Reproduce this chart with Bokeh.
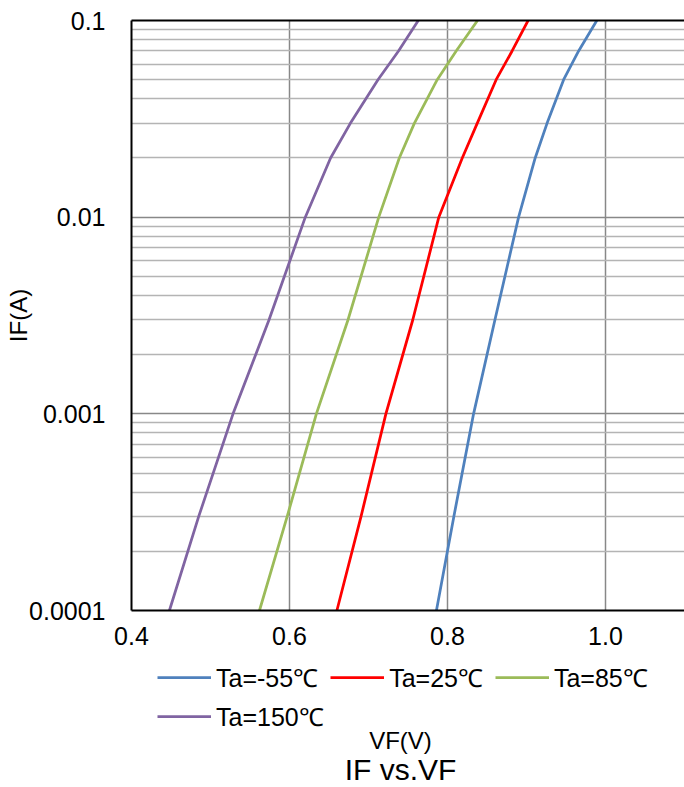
import math
from bokeh.plotting import figure
from bokeh.layouts import column
from bokeh.models import (FixedTicker, PrintfTickFormatter, CustomJSTickFormatter, Range1d,
                          Legend, LegendItem, Label, LinearAxis)
from bokeh.embed import file_html
from bokeh.resources import INLINE

# ---- data ----
IF_A = [1e-4, 3e-4, 1e-3, 3e-3, 1e-2, 2e-2, 3e-2, 5e-2, 7e-2, 1e-1]
VF_M55 = [0.786, 0.808, 0.833, 0.860, 0.890, 0.911, 0.926, 0.947, 0.966, 0.989]
VF_25 = [0.660, 0.6905, 0.722, 0.756, 0.789, 0.8187, 0.8376, 0.8616, 0.8818, 0.902]
VF_85 = [0.562, 0.597, 0.634, 0.674, 0.713, 0.739, 0.758, 0.787, 0.811, 0.838]
VF_150 = [0.448, 0.485, 0.5285, 0.574, 0.620, 0.652, 0.677, 0.712, 0.738, 0.763]

SERIES = ["Ta=-55℃", "Ta=25℃", "Ta=85℃", "Ta=150℃"]
COLORS = ["#4F81BD", "#FF0000", "#9BBB59", "#8064A2"]

X_TICKS = [0.4, 0.6, 0.8, 1.0]
Y_TICKS = [1e-4, 1e-3, 1e-2, 1e-1]
Y_MINOR = [k * d for d in [1e-4, 1e-3, 1e-2] for k in range(2, 10)]

X_LABEL = "VF(V)"
Y_LABEL = "IF(A)"
TITLE = "IF vs.VF"

FONT = "Liberation Sans"
W = 684
H1 = 660
H2 = 787 - H1

p = figure(width=W, height=H1, y_axis_type="log",
           x_range=Range1d(0.4, 1.1), y_range=Range1d(1e-4, 1e-1),
           output_backend="svg", toolbar_location=None,
           min_border_left=131, min_border_right=0, min_border_top=20,
           min_border_bottom=H1 - 20 - 590)
p.outline_line_color = None

xt = FixedTicker(ticks=X_TICKS)
yt = FixedTicker(ticks=Y_TICKS, minor_ticks=Y_MINOR)
p.xaxis.ticker = xt
p.yaxis.ticker = yt
p.xaxis.formatter = PrintfTickFormatter(format="%.1f")
p.yaxis.formatter = CustomJSTickFormatter(code="return tick.toString();")
for ax in (p.xaxis[0], p.yaxis[0]):
    ax.axis_line_color = "black"
    ax.axis_line_width = 2
    ax.major_tick_line_color = None
    ax.minor_tick_line_color = None
    ax.major_tick_out = 0
    ax.minor_tick_out = 0
    ax.major_label_text_font = FONT
    ax.major_label_text_font_size = "25px"
    ax.major_label_text_color = "black"
p.yaxis.major_label_standoff = 26
p.xaxis.major_label_standoff = 16
p.yaxis.axis_label = Y_LABEL
p.yaxis.axis_label_text_font = FONT
p.yaxis.axis_label_text_font_size = "24px"
p.yaxis.axis_label_text_font_style = "normal"
p.yaxis.axis_label_text_color = "black"
p.yaxis.axis_label_standoff = -6

top = LinearAxis(ticker=FixedTicker(ticks=[]), major_label_text_font_size="0px",
                 major_tick_line_color=None, minor_tick_line_color=None,
                 major_tick_out=0, minor_tick_out=0, major_label_standoff=0,
                 axis_line_color="black", axis_line_width=2)
p.add_layout(top, "above")

p.xgrid.ticker = xt
p.xgrid.grid_line_color = "#888888"
p.xgrid.grid_line_width = 1.5
p.ygrid.ticker = yt
p.ygrid.grid_line_color = "#888888"
p.ygrid.grid_line_width = 1.5
p.ygrid.minor_grid_line_color = "#b4b4b4"
p.ygrid.minor_grid_line_width = 1.5

VFS = [VF_M55, VF_25, VF_85, VF_150]
for vf, c in zip(VFS, COLORS):
    p.line(vf, IF_A, line_color=c, line_width=2.75, line_join="round")

# ---- lower panel: legend, x-axis title, chart title ----
# (its frame is aligned with the chart frame: x measured from the frame's left edge)
q = figure(width=W, height=H2, x_range=Range1d(0, 553), y_range=Range1d(0, H2),
           output_backend="svg", toolbar_location=None,
           min_border_left=0, min_border_right=0, min_border_top=0, min_border_bottom=0,
           x_axis_location=None, y_axis_location=None)
q.grid.visible = False
q.outline_line_color = None

items = []
for name, vf, c in zip(SERIES, VFS, COLORS):
    r = q.line(vf, IF_A, line_color=c, line_width=2.75, visible=False)
    items.append(LegendItem(label=name, renderers=[r]))

common = dict(orientation="horizontal", glyph_width=54, glyph_height=20,
              label_standoff=5, spacing=12, padding=0, margin=0,
              label_text_font=FONT, label_text_font_size="25px",
              label_text_color="black", border_line_color=None,
              background_fill_alpha=0, inactive_fill_alpha=0)
leg1 = Legend(items=items[:3], location=(26, 93), **common)
leg2 = Legend(items=items[3:], location=(26, 54), **common)
q.add_layout(leg1, "center")
q.add_layout(leg2, "center")

q.add_layout(Label(x=269, y=47, x_units="screen", y_units="screen", text=X_LABEL,
                   text_align="center", text_baseline="alphabetic",
                   text_font=FONT, text_font_size="24px", text_color="black"))
q.add_layout(Label(x=269, y=18, x_units="screen", y_units="screen", text=TITLE,
                   text_align="center", text_baseline="alphabetic",
                   text_font=FONT, text_font_size="30px", text_color="black"))

open("out.html", "w").write(file_html(column(p, q), INLINE))
